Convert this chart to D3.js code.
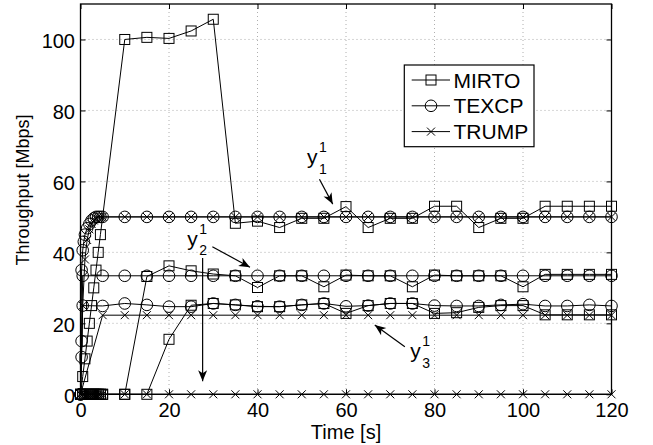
<!DOCTYPE html>
<html><head><meta charset="utf-8">
<script src="https://cdn.jsdelivr.net/npm/d3@7"></script>
<style>
html,body{margin:0;padding:0;background:#fff;}
svg text{font-family:"Liberation Sans",Arial,Helvetica,sans-serif;fill:#000;}
</style></head>
<body>
<svg id="chart" width="653" height="445"></svg>
<script>
// ---------------- data ----------------
const xTicks = [0, 20, 40, 60, 80, 100, 120];
const yTicks = [0, 20, 40, 60, 80, 100];
const protocols = ["MIRTO", "TEXCP", "TRUMP"];

const t5 = [10,15,20,25,30,35,40,45,50,55,60,65,70,75,80,85,90,95,100,105,110,115,120];
const tHalf = [0,0.5,1,1.5,2,2.5,3,3.5,4,4.5,5];

const mirtoTime1 = [0,0.5,1,1.5,2,2.5,3,3.5,4,4.5].concat(t5);
const mirtoFlow1 = [0,5,10,15,20,25,30,35,40,45,
  100,100.6,100.3,102.4,105.7,48.2,48.8,47,49.6,49.6,52.9,47,49.6,49.6,53,53,47,49.6,49.6,53,53,53,53];
const mirtoTime2 = tHalf.concat(t5);
const mirtoFlow2 = [0,0,0,0,0,0,0,0,0,0,0,
  0,33.2,36.2,34.8,33.9,33.4,30.1,33.4,33.4,30.3,33.6,33.4,33.4,30.3,33.6,33.4,33.4,33.4,30.3,33.8,33.8,33.8,33.8];
const mirtoTime3 = tHalf.concat(t5);
const mirtoFlow3 = [0,0,0,0,0,0,0,0,0,0,0,
  0,0,15.5,25.1,25.6,25.2,24.7,24.7,25.2,25.6,22.8,25,25.6,25.6,22.8,23,24.5,25,25,22.4,22.4,22.4,22.4];

const texcpTime1 = [0,0.25,0.5,0.75,1,1.5,2,2.5,3,3.5,4,4.5,5].concat(t5);
const texcpFlow1 = [0,35,40.6,43,45,46.8,48,49,49.6,50,50,50,50,
  50,50,50,50,50,50,50,50,50,50,50,50,50,50,50,50,50,50,50,50,50,50,50];
const texcpTime2 = [0,0.25,0.5,5].concat(t5);
const texcpFlow2 = [0,15,33.4,33.4,
  33.4,33.4,33.4,33.4,33.4,33.4,33.4,33.4,33.4,33.4,33.4,33.4,33.4,33.4,33.4,33.4,33.4,33.4,33.4,33.4,33.4,33.4,33.4];
const texcpTime3 = [0,0.25,0.5,5].concat(t5);
const texcpFlow3 = [0,10.5,25,24.9,
  25.6,25.2,24.7,24.7,25.6,25.2,24.8,24.7,25.2,25.6,24.8,25,25.6,25.6,25,24.9,24.9,25.2,25.4,24.9,24.9,25.2,24.9];

const trumpTime1 = tHalf.concat(t5);
const trumpFlow1 = [0,25,38,43.5,46.5,48,49,49.5,50,50,50,
  50,50,50,50,50,50,50,50,50,50,50,50,50,50,50,50,50,50,50,50,50,50,50];
const trumpTime2 = tHalf.concat(t5);
const trumpFlow2 = [0,0,0,0,0,0,0,0,0,0,0,
  0,0,0,0,0,0,0,0,0,0,0,0,0,0,0,0,0,0,0,0,0,0,0];
const trumpTime3 = [0,5].concat(t5);
const trumpFlow3 = [0,22.3,
  22.3,22.3,22.3,22.3,22.3,22.3,22.3,22.3,22.3,22.3,22.3,22.3,22.3,22.3,22.3,22.3,22.3,22.3,22.3,22.3,22.3,22.3,22.3];

// annotations (data units)
const annotLabels = [
  {sub:"1", tx:51.2, ty:64.9, from:[54.0,60.6], to:[57.0,53.6]},
  {sub:"2", tx:24.1, ty:41.8, from:[29.8,41.6], to:[38.3,35.8]},
  {sub:"3", tx:74.5, ty:10.2, from:[73.3,13.4], to:[66.5,19.5]}
];
const extraArrow = {from:[27.6,38.4], to:[27.6,3.7]};

// ---------------- layout ----------------
const svg = d3.select("#chart");
const L = 80.5, R = 611.5, T = 4, B = 394.3;
const x = d3.scaleLinear().domain([0,120]).range([L,R]);
const y = d3.scaleLinear().domain([0,110]).range([B,T]);

// grid
const grid = svg.append("g").attr("stroke","#9a9a9a").attr("stroke-width",0.8).attr("stroke-dasharray","1,3");
xTicks.filter(d=>d>0 && d<120).forEach(d=>{
  grid.append("line").attr("x1",x(d)).attr("x2",x(d)).attr("y1",T).attr("y2",B);
});
yTicks.filter(d=>d>0).forEach(d=>{
  grid.append("line").attr("x1",L).attr("x2",R).attr("y1",y(d)).attr("y2",y(d));
});

// axes
const fs = "20px";
const gx = svg.append("g").attr("transform",`translate(0,${B})`)
  .call(d3.axisBottom(x).tickValues(xTicks).tickSize(-5).tickPadding(0));
gx.selectAll("text").attr("y",22.7).attr("dy",0).style("font-size",fs);
const gxt = svg.append("g").attr("transform",`translate(0,${T})`)
  .call(d3.axisTop(x).tickValues(xTicks).tickSize(-5).tickFormat(""));
const gy = svg.append("g").attr("transform",`translate(${L},0)`)
  .call(d3.axisLeft(y).tickValues(yTicks).tickSize(-5).tickPadding(5.5));
gy.selectAll("text").attr("dy",0).attr("y",8.5).style("font-size",fs);
const gyr = svg.append("g").attr("transform",`translate(${R},0)`)
  .call(d3.axisRight(y).tickValues(yTicks).tickSize(-5).tickFormat(""));
[gx,gxt,gy,gyr].forEach(g=>{
  g.select(".domain").remove();
  g.selectAll(".tick line").attr("stroke","#000").attr("stroke-width",1);
});

// series
const markerSize = {sq:10, ci:5.8, cr:4};
function drawMarker(g, type, cx, cy){
  if(type==="square"){
    g.append("rect").attr("x",cx-markerSize.sq/2).attr("y",cy-markerSize.sq/2)
      .attr("width",markerSize.sq).attr("height",markerSize.sq)
      .attr("fill","none").attr("stroke","#000").attr("stroke-width",1);
  } else if(type==="circle"){
    g.append("circle").attr("cx",cx).attr("cy",cy).attr("r",markerSize.ci)
      .attr("fill","none").attr("stroke","#000").attr("stroke-width",1);
  } else {
    const s = markerSize.cr;
    g.append("path").attr("d",`M${cx-s},${cy-s}L${cx+s},${cy+s}M${cx-s},${cy+s}L${cx+s},${cy-s}`)
      .attr("fill","none").attr("stroke","#000").attr("stroke-width",1);
  }
}
const series = [
  {p:"MIRTO", m:"square", t:mirtoTime1, v:mirtoFlow1},
  {p:"MIRTO", m:"square", t:mirtoTime2, v:mirtoFlow2},
  {p:"MIRTO", m:"square", t:mirtoTime3, v:mirtoFlow3},
  {p:"TEXCP", m:"circle", t:texcpTime1, v:texcpFlow1},
  {p:"TEXCP", m:"circle", t:texcpTime2, v:texcpFlow2},
  {p:"TEXCP", m:"circle", t:texcpTime3, v:texcpFlow3},
  {p:"TRUMP", m:"cross", t:trumpTime1, v:trumpFlow1},
  {p:"TRUMP", m:"cross", t:trumpTime2, v:trumpFlow2},
  {p:"TRUMP", m:"cross", t:trumpTime3, v:trumpFlow3}
];
const line = d3.line().x(d=>x(d[0])).y(d=>y(d[1]));
const plot = svg.append("g");
series.forEach(s=>{
  const pts = s.t.map((t,i)=>[t,s.v[i]]);
  plot.append("path").attr("d",line(pts)).attr("fill","none").attr("stroke","#000").attr("stroke-width",1);
  const mg = plot.append("g");
  pts.forEach(p=>drawMarker(mg, s.m, x(p[0]), y(p[1])));
});

// box
svg.append("rect").attr("x",L).attr("y",T).attr("width",R-L).attr("height",B-T)
  .attr("fill","none").attr("stroke","#000").attr("stroke-width",1.3);

// labels
svg.append("text").attr("x",x(60)).attr("y",438.5).attr("text-anchor","middle")
  .style("font-size","20px").text("Time [s]");
svg.append("text").attr("transform",`translate(29,190) rotate(-90)`).attr("text-anchor","middle")
  .style("font-size","18px").text("Throughput [Mbps]");

// annotations
function arrow(g, x1,y1,x2,y2){
  g.append("line").attr("x1",x1).attr("y1",y1).attr("x2",x2).attr("y2",y2)
    .attr("stroke","#000").attr("stroke-width",1.2);
  const a = Math.atan2(y2-y1,x2-x1), len=11, w=4.5, back=8;
  const px = (d,o)=>[x2 - d*Math.cos(a) - o*Math.sin(a), y2 - d*Math.sin(a) + o*Math.cos(a)];
  const p1 = px(len, w), p2 = px(back, 0), p3 = px(len, -w);
  g.append("path").attr("d",`M${x2},${y2}L${p1}L${p2}L${p3}Z`).attr("fill","#000");
}
const ann = svg.append("g");
annotLabels.forEach(a=>{
  const tx = x(a.tx), ty = y(a.ty);
  ann.append("text").attr("x",tx).attr("y",ty).style("font-size","21px").text("y");
  ann.append("text").attr("x",tx+12).attr("y",ty-12).style("font-size","14px").text("1");
  ann.append("text").attr("x",tx+12).attr("y",ty+9.5).style("font-size","14px").text(a.sub);
  arrow(ann, x(a.from[0]), y(a.from[1]), x(a.to[0]), y(a.to[1]));
});
arrow(ann, x(extraArrow.from[0]), y(extraArrow.from[1]), x(extraArrow.to[0]), y(extraArrow.to[1]));

// legend
const lg = svg.append("g");
lg.append("rect").attr("x",404.3).attr("y",65).attr("width",129.7).attr("height",81.7)
  .attr("fill","#fff").attr("stroke","#000").attr("stroke-width",1.2);
const legendMarkers = ["square","circle","cross"];
protocols.forEach((p,i)=>{
  const cy = 80 + i*25.8;
  lg.append("line").attr("x1",411.7).attr("x2",450).attr("y1",cy).attr("y2",cy).attr("stroke","#000").attr("stroke-width",1);
  drawMarker(lg, legendMarkers[i], 431, cy);
  lg.append("text").attr("x",453.5).attr("y",cy+7.5).style("font-size","21px").text(p);
});
</script>
</body></html>
